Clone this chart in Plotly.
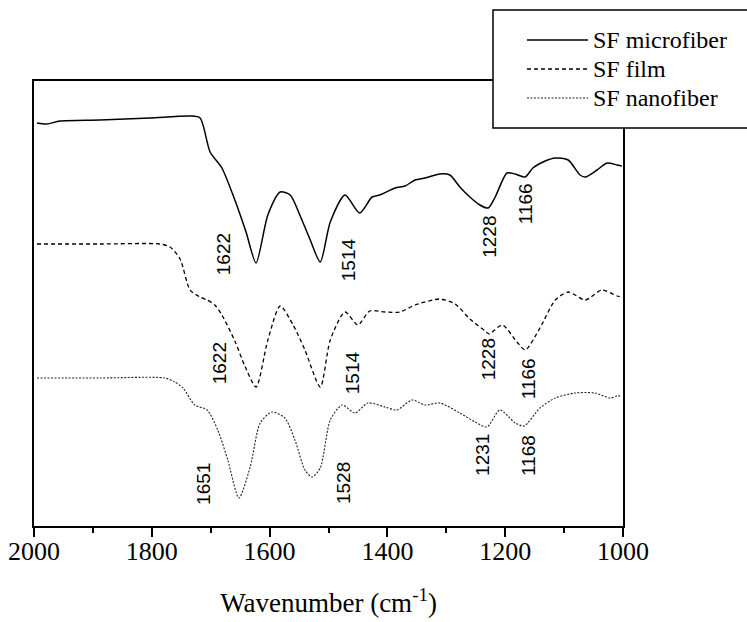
import numpy as np
import plotly.graph_objects as go

# ---- data (wavenumber in cm^-1, transmittance in arbitrary units) ----
micro_wn = [1995, 1978, 1956, 1888, 1803, 1735, 1718, 1701, 1681, 1659, 1640, 1623, 1603, 1582,
            1565, 1548, 1531, 1514, 1497, 1472, 1447, 1426, 1413, 1387, 1370, 1353, 1336, 1311,
            1294, 1277, 1260, 1243, 1229, 1217, 1197, 1183, 1166, 1153, 1132, 1115, 1093, 1073,
            1064, 1044, 1027, 1010, 1002]
micro_t = [403, 402, 405, 406, 408, 410, 408, 374, 358, 326, 294, 263, 311, 334,
           331, 310, 286, 264, 304, 331, 313, 329, 331, 338, 340, 346, 348, 352,
           351, 339, 329, 321, 318, 329, 353, 352, 349, 358, 365, 368, 366, 351,
           349, 356, 363, 361, 360]

film_wn = [1995, 1888, 1786, 1769, 1752, 1735, 1718, 1706, 1693, 1681, 1659, 1642, 1623, 1603,
           1582, 1560, 1540, 1514, 1497, 1472, 1450, 1430, 1404, 1379, 1353, 1311, 1285, 1260,
           1234, 1227, 1205, 1180, 1166, 1141, 1115, 1093, 1064, 1036, 1010, 1002]
film_t = [282, 282, 282, 279, 267, 236, 229, 226, 221, 211, 185, 160, 139, 186,
          220, 201, 176, 139, 186, 214, 201, 215, 214, 214, 221, 227, 222, 207,
          195, 192, 201, 184, 176, 198, 226, 234, 226, 236, 230, 229]

nano_wn = [1995, 1888, 1778, 1761, 1747, 1727, 1706, 1688, 1671, 1652, 1633, 1616, 1596, 1574,
           1557, 1540, 1528, 1514, 1497, 1477, 1455, 1433, 1404, 1384, 1358, 1336, 1311, 1277,
           1251, 1231, 1209, 1183, 1168, 1141, 1115, 1081, 1048, 1022, 1010, 1002]
nano_t = [148, 148, 148, 144, 138, 121, 116, 96, 66, 28, 59, 103, 114, 108,
          86, 56, 49, 58, 106, 121, 113, 123, 119, 116, 126, 121, 123, 113,
          104, 99, 116, 103, 100, 118, 128, 133, 133, 128, 130, 130]

series_names = ["SF microfiber", "SF film", "SF nanofiber"]

# peak labels: (series index, label wavenumber)
peak_series = [0, 0, 0, 0, 1, 1, 1, 1, 2, 2, 2, 2]
peak_wn = [1622, 1514, 1228, 1166, 1622, 1514, 1228, 1166, 1651, 1528, 1231, 1168]
label_dx = [-33, 28, 0, 0, -37, 32, 0, 3, -36, 31, -5, 4]
label_dy = [6, 2, -30, -27, 21, 14, -26, -29, 12, -6, -28, -30]

x_ticks = [2000, 1800, 1600, 1400, 1200, 1000]

SERIF = "Liberation Serif, Times New Roman, serif"
SANS = "Liberation Sans, Arial, sans-serif"

# ---- figure ----
data = [(micro_wn, micro_t), (film_wn, film_t), (nano_wn, nano_t)]
styles = [dict(color="black", width=1.5, dash="solid"),
          dict(color="black", width=1.3, dash="4px,3px"),
          dict(color="#222222", width=1.1, dash="2px,1.5px")]

fig = go.Figure()
for (wn, t), name, st in zip(data, series_names, styles):
    fig.add_trace(go.Scatter(x=wn, y=t, mode="lines", name=name, showlegend=False,
                             line=dict(shape="spline", smoothing=0.7, **st)))

for s, w, dx, dy in zip(peak_series, peak_wn, label_dx, label_dy):
    wn, t = data[s]
    yv = float(np.interp(w, wn[::-1], t[::-1]))
    fig.add_annotation(x=w, y=yv, xref="x", yref="y", text=str(w), showarrow=False,
                       textangle=-90, xshift=dx, yshift=dy,
                       font=dict(family=SANS, size=19, color="black"))

# legend: white framed box overlapping the plot frame, running off the right edge
fig.add_shape(type="rect", xref="paper", yref="paper", x0=0.7793, x1=1.25, y0=0.8944, y1=1.1596,
              line=dict(color="black", width=1.5), fillcolor="white", layer="above")
legend_rows = [1.0921, 1.0270, 0.9618]
for name, st, ry in zip(series_names, styles, legend_rows):
    fig.add_shape(type="line", xref="paper", yref="paper", x0=0.8370, x1=0.9406, y0=ry, y1=ry,
                  line=dict(color=st["color"], width=st["width"], dash=st["dash"]), layer="above")
    fig.add_annotation(x=0.9457, y=ry, xref="paper", yref="paper", text=name, showarrow=False,
                       xanchor="left", yanchor="middle",
                       font=dict(family=SERIF, size=24, color="black"))

fig.update_layout(
    width=747, height=622,
    margin=dict(l=34, r=124, t=81, b=96, autoexpand=False),
    paper_bgcolor="white", plot_bgcolor="white",
    font=dict(family=SERIF, color="black"),
    showlegend=False,
)
fig.update_xaxes(range=[2000, 1000], tickvals=x_ticks, ticks="outside", ticklen=9, tickwidth=1.5,
                 tickcolor="black", showline=True, linewidth=2, linecolor="black", mirror=True,
                 showgrid=False, zeroline=False, automargin=False, ticklabelstandoff=-8,
                 minor=dict(dtick=100, ticks="outside", ticklen=5, tickwidth=1.5, tickcolor="black"),
                 tickfont=dict(family=SERIF, size=26, color="black"),
                 title=dict(text="Wavenumber (cm<sup>-1</sup>)", standoff=28,
                            font=dict(family=SERIF, size=27, color="black")))
fig.update_yaxes(range=[0, 445], showticklabels=False, ticks="", showline=True, linewidth=2,
                 linecolor="black", mirror=True, showgrid=False, zeroline=False, automargin=False)

fig.write_html("out.html", config={"displayModeBar": False},
               post_script="document.body.style.margin='0px';")
